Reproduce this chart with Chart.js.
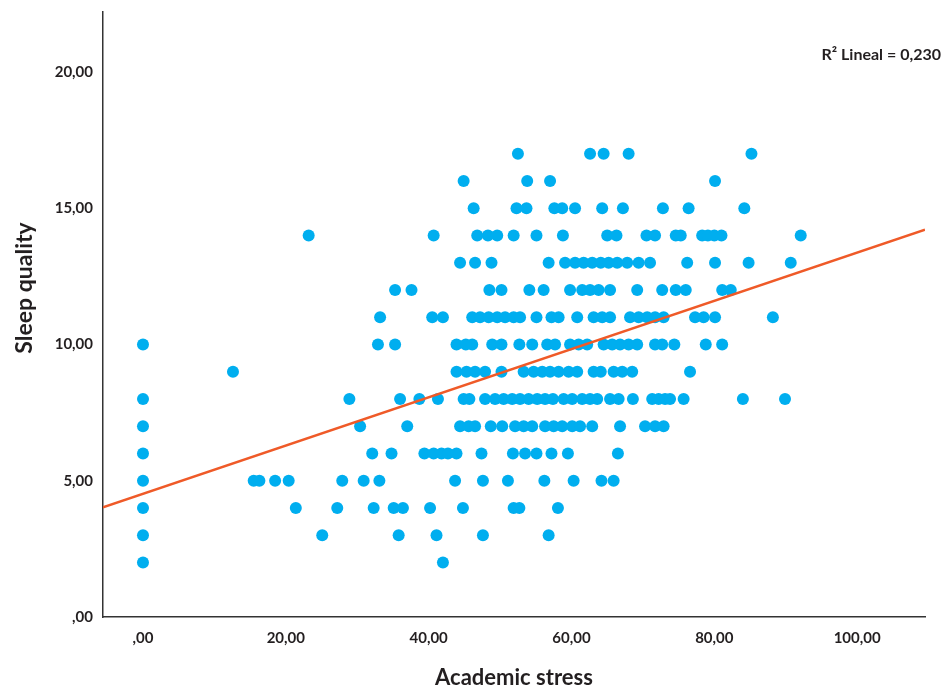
<!DOCTYPE html>
<html>
<head>
<meta charset="utf-8">
<script src="https://cdn.jsdelivr.net/npm/chart.js@4.4.1/dist/chart.umd.min.js"></script>
<style>
  html, body { margin: 0; padding: 0; background: #fff; }
  #wrap { width: 945px; height: 689px; }
</style>
</head>
<body>
<div id="wrap"><canvas id="chart" width="945" height="689"></canvas></div>
<script>
// Academic stress of each student, grouped by sleep quality score
const sleep2 = [0, 42.0];
const sleep3 = [0, 25.1, 35.8, 41.1, 47.6, 56.8];
const sleep4 = [0, 21.4, 27.2, 32.3, 35.1, 36.4, 40.2, 44.8, 51.9, 52.7, 58.1];
const sleep5 = [0, 15.5, 16.3, 18.5, 20.4, 27.9, 30.9, 33.1, 43.7, 47.6, 51.1, 56.2, 60.3, 64.2, 65.9];
const sleep6 = [0, 32.1, 34.8, 39.4, 40.7, 41.8, 42.7, 43.9, 47.4, 51.8, 53.5, 55.1, 57.2, 59.5, 66.5];
const sleep7 = [0, 30.4, 37.0, 44.4, 45.6, 46.5, 48.7, 50.3, 52.1, 53.3, 54.5, 56.3, 57.5, 58.7,
                60.1, 61.2, 62.9, 66.8, 70.3, 71.7, 72.9];
const sleep8 = [0, 28.9, 36.0, 38.7, 41.3, 44.9, 45.7, 47.9, 49.3, 50.5, 51.7, 52.8, 54.0, 55.2, 56.3,
                57.4, 58.9, 60.1, 61.5, 62.6, 63.6, 65.4, 66.6, 68.6, 71.3, 72.2, 73.1, 73.8, 75.7, 84.0, 89.9];
const sleep9 = [12.6, 43.9, 45.3, 46.5, 47.9, 50.2, 53.3, 54.7, 55.9, 57.0, 58.2, 59.6, 60.8, 63.1,
                64.1, 65.9, 67.1, 68.5, 76.6];
const sleep10 = [0, 32.9, 35.3, 43.9, 45.2, 46.1, 48.9, 50.2, 52.7, 54.5, 56.6, 57.7, 59.8, 61.0, 62.2,
                 64.5, 65.7, 66.8, 68.0, 69.2, 71.7, 72.7, 74.4, 78.8, 81.1];
const sleep11 = [33.2, 40.5, 42.0, 46.1, 47.2, 48.4, 49.6, 50.7, 51.9, 52.8, 55.1, 57.2, 58.2, 60.8,
                 63.1, 64.3, 65.4, 68.2, 69.4, 70.6, 71.7, 72.9, 77.3, 78.5, 80.1, 88.2];
const sleep12 = [35.3, 37.6, 48.5, 50.2, 54.1, 56.1, 59.8, 61.5, 62.6, 63.8, 65.4, 69.2, 72.7, 74.6,
                 76.0, 81.1, 82.3];
const sleep13 = [44.4, 46.5, 48.8, 56.8, 59.1, 60.5, 61.7, 62.9, 64.1, 65.2, 66.4, 67.8, 69.4, 71.0,
                 76.2, 80.1, 84.8, 90.7];
const sleep14 = [23.2, 40.7, 46.8, 48.3, 49.6, 51.9, 55.1, 58.8, 65.0, 66.3, 70.5, 71.7, 74.6, 75.3,
                 78.3, 79.1, 80.0, 81.0, 92.1];
const sleep15 = [46.3, 52.3, 53.7, 57.6, 58.7, 60.5, 64.3, 67.2, 72.8, 76.4, 84.2];
const sleep16 = [44.9, 53.8, 57.0, 80.1];
const sleep17 = [52.5, 62.6, 64.5, 68.0, 85.2];

const sleepLevels = [2, 3, 4, 5, 6, 7, 8, 9, 10, 11, 12, 13, 14, 15, 16, 17];
const stressBySleep = [sleep2, sleep3, sleep4, sleep5, sleep6, sleep7, sleep8, sleep9, sleep10,
                       sleep11, sleep12, sleep13, sleep14, sleep15, sleep16, sleep17];

const xTicks = [0, 20, 40, 60, 80, 100];
const yTicks = [0, 5, 10, 15, 20];

// linear fit
const fitIntercept = 4.52;
const fitSlope = 0.0885;
const r2Label = 'R\u00B2 Lineal = 0,230';

const xMin = -5.6, xMax = 109.5;
const yMin = 0, yMax = 22.2;

const textColor = '#231f20';
const fontFamily = 'Lato, "Open Sans", sans-serif';

const points = [];
sleepLevels.forEach((lvl, i) => {
    stressBySleep[i].forEach(x => points.push({ x: x, y: lvl }));
});

const fitLine = [xMin, xMax].map(x => ({ x: x, y: fitIntercept + fitSlope * x }));

const fmt = v => v === 0 ? ',00' : v.toFixed(2).replace('.', ',');

const extraText = {
    id: 'extraText',
    afterDraw(chart) {
        const ctx = chart.ctx;
        ctx.save();
        ctx.fillStyle = textColor;
        // y axis title
        ctx.font = 'bold 23px ' + fontFamily;
        ctx.translate(25, 288);
        ctx.rotate(-Math.PI / 2);
        ctx.textAlign = 'center';
        ctx.textBaseline = 'middle';
        ctx.fillText('Sleep quality', 0, 0);
        ctx.restore();

        ctx.save();
        ctx.fillStyle = textColor;
        ctx.font = 'bold 16px ' + fontFamily;
        ctx.textAlign = 'right';
        ctx.textBaseline = 'middle';
        ctx.fillText(r2Label, 941, 55);
        ctx.restore();
    }
};

new Chart(document.getElementById('chart'), {
    data: {
        datasets: [
            {
                type: 'line',
                data: fitLine,
                borderColor: '#ef5a28',
                borderWidth: 2.5,
                pointRadius: 0,
                order: 0
            },
            {
                type: 'scatter',
                data: points,
                backgroundColor: '#00aeef',
                borderWidth: 0,
                pointRadius: 6,
                order: 1
            }
        ]
    },
    options: {
        responsive: false,
        animation: false,
        devicePixelRatio: 1,
        layout: { padding: { top: 12, right: 20, left: 0, bottom: 0 } },
        plugins: {
            legend: { display: false },
            tooltip: { enabled: false }
        },
        scales: {
            x: {
                type: 'linear',
                min: xMin,
                max: xMax,
                grid: { display: false, drawTicks: false },
                border: { display: true, color: '#333', width: 1.5 },
                afterBuildTicks: s => { s.ticks = xTicks.map(v => ({ value: v })); },
                afterFit: s => { s.height = 72; s.paddingLeft = 0; s.paddingRight = 0; },
                ticks: {
                    padding: 12,
                    color: textColor,
                    font: { family: fontFamily, size: 15, weight: 'bold' },
                    callback: v => fmt(v)
                },
                title: {
                    display: true,
                    text: 'Academic stress',
                    color: textColor,
                    font: { family: fontFamily, size: 22, weight: 'bold', lineHeight: 1 },
                    padding: { top: 0, bottom: 0 }
                }
            },
            y: {
                type: 'linear',
                min: yMin,
                max: yMax,
                grid: { display: false, drawTicks: false },
                border: { display: true, color: '#333', width: 1.5 },
                afterBuildTicks: s => { s.ticks = yTicks.map(v => ({ value: v })); },
                afterFit: s => { s.width = 103; s.paddingTop = 0; s.paddingBottom = 0; },
                ticks: {
                    padding: 10,
                    color: textColor,
                    font: { family: fontFamily, size: 15, weight: 'bold' },
                    callback: v => fmt(v)
                }
            }
        }
    },
    plugins: [extraText]
});
</script>
</body>
</html>
